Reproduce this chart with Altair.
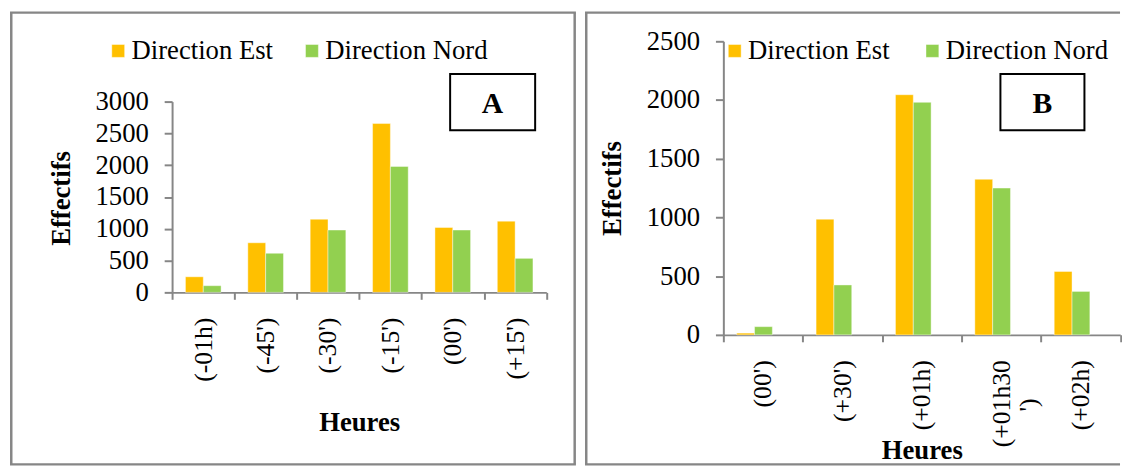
import altair as alt
import pandas as pd

# ---------------- data ----------------
series = ["Direction Est", "Direction Nord"]
colors = ["#FFC000", "#92D050"]

cats_a = ["(-01h)", "(-45')", "(-30')", "(-15')", "(00')", "(+15')"]
est_a = [245, 780, 1150, 2655, 1020, 1120]
nord_a = [105, 615, 980, 1980, 980, 535]

cats_b = ["(00')", "(+30')", "(+01h)", "(+01h30')", "(+02h)"]
est_b = [15, 985, 2045, 1325, 540]
nord_b = [70, 425, 1980, 1250, 370]

FONT = "Liberation Serif"
GREY = "#868686"


def long_df(cats, est, nord):
    rows = []
    for c, e, n in zip(cats, est, nord):
        rows.append({"Heure": c, "Serie": series[0], "Valeur": e})
        rows.append({"Heure": c, "Serie": series[1], "Valeur": n})
    return pd.DataFrame(rows)


one = pd.DataFrame({"k": [0]})


def panel(cats, est, nord, ymax, w, h, ytop, legend_xy, col_pad, title_y, ytitle_y,
          letter, box, letter_xy, frame):
    df = long_df(cats, est, nord)
    pad = "\u00a0" * 3 + "\u2800"
    label_expr = ('datum.value === "(+01h30\')" ? ["(+01h30", "\')' + pad + '"] : datum.label')
    bars = alt.Chart(df).mark_bar().encode(
        x=alt.X("Heure:N", sort=cats,
                scale=alt.Scale(paddingInner=0, paddingOuter=0),
                axis=alt.Axis(title="Heures", labelAngle=-90, labelPadding=18, tickSize=7,
                              tickBand="extent", labelOverlap=False, labelExpr=label_expr,
                              labelFontSize=26,
                              titleY=title_y, titleBaseline="middle")),
        xOffset=alt.XOffset("Serie:N", sort=series,
                            scale=alt.Scale(paddingInner=0, paddingOuter=0.75)),
        y=alt.Y("Valeur:Q", scale=alt.Scale(domain=[0, ymax], nice=False, range=[h, ytop]),
                axis=alt.Axis(title="Effectifs", values=list(range(0, ymax + 1, 500)),
                              format="d", tickSize=8, labelPadding=16, grid=False,
                              titleX=-112, titleY=ytitle_y, titleBaseline="middle")),
        color=alt.Color("Serie:N", sort=series,
                        scale=alt.Scale(domain=series, range=colors),
                        legend=alt.Legend(orient="none", legendX=legend_xy[0], legendY=legend_xy[1],
                                          direction="horizontal", title=None, symbolType="square",
                                          symbolSize=169, symbolStrokeWidth=0, labelFont=FONT,
                                          labelFontSize=27, labelColor="black", labelOffset=0,
                                          columnPadding=col_pad, padding=0, labelLimit=300)),
    )
    fx1, fx2, fy1, fy2, right_edge = frame
    top = alt.Chart(one).mark_rule(stroke=GREY, strokeWidth=2.5).encode(
        x=alt.value(fx1 - 1.25), x2=alt.value(fx2 + (1.25 if right_edge else 0)), y=alt.value(fy1))
    left = alt.Chart(one).mark_rule(stroke=GREY, strokeWidth=2.5).encode(
        x=alt.value(fx1), y=alt.value(fy1), y2=alt.value(fy2))
    bot = alt.Chart(one).mark_rule(stroke=GREY, strokeWidth=2.5).encode(
        x=alt.value(fx1 - 1.25), x2=alt.value(fx2 + (1.25 if right_edge else 0)), y=alt.value(fy2))
    frames = [top, left, bot]
    if right_edge:
        frames.append(alt.Chart(one).mark_rule(stroke=GREY, strokeWidth=2.5).encode(
            x=alt.value(fx2), y=alt.value(fy1), y2=alt.value(fy2)))
    bx = alt.Chart(one).mark_rect(fill="white", stroke="black", strokeWidth=2).encode(
        x=alt.value(box[0]), x2=alt.value(box[1]), y=alt.value(box[2]), y2=alt.value(box[3]))
    tx = alt.Chart(one).mark_text(text=letter, font=FONT, fontSize=30, fontWeight="bold",
                                  color="black", align="center", baseline="middle").encode(
        x=alt.value(letter_xy[0]), y=alt.value(letter_xy[1]))
    return alt.layer(*frames, bars, bx, tx).properties(width=w, height=h)


# Both panels share the same origin (page y = 39); panel A's plotting range starts lower.
pa = panel(cats_a, est_a, nord_a, 3000, 378.6, 254, 61,
           legend_xy=(-68, -4), col_pad=25, title_y=132, ytitle_y=158.5, letter="A",
           box=(281.3, 367.3, 33, 90), letter_xy=(324, 64),
           frame=(-162.7, 407.3, -29, 428, True))

pb = panel(cats_b, est_b, nord_b, 2500, 401.5, 297, 0,
           legend_xy=(-2, -4), col_pad=29, title_y=117, ytitle_y=148.5, letter="B",
           box=(280.3, 365.3, 33, 90), letter_xy=(322.8, 64),
           frame=(-138.7, 401.3, -29, 428, False))

chart = alt.hconcat(pa, pb, spacing=5.7).resolve_scale(
    color="independent", x="independent", y="independent"
).resolve_legend(color="independent").properties(padding=0).configure_view(
    stroke=None
).configure_axis(
    domainColor=GREY, domainWidth=2, tickColor=GREY, tickWidth=2,
    labelFont=FONT, labelFontSize=27, labelColor="black",
    titleFont=FONT, titleFontSize=27, titleFontWeight="bold", titleColor="black",
).configure_bar(stroke="#FFFFFF", strokeWidth=0.6, strokeOpacity=0.7)

chart.save("out.html", embed_options={"renderer": "svg", "actions": False})
